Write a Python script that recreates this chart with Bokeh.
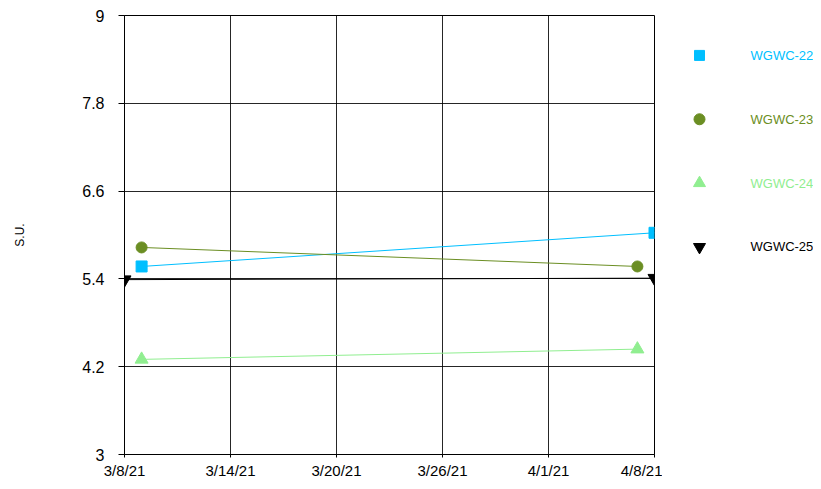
import pandas as pd
from bokeh.plotting import figure
from bokeh.layouts import row
from bokeh.models import FixedTicker, Range1d
from bokeh.core.properties import value
from bokeh.embed import file_html
from bokeh.resources import INLINE

start_date = "2021-03-08"
series_names = ["WGWC-22", "WGWC-23", "WGWC-24", "WGWC-25"]
series_dates = [
    ["2021-03-09", "2021-04-08"],
    ["2021-03-09", "2021-04-07"],
    ["2021-03-09", "2021-04-07"],
    ["2021-03-08", "2021-04-08"],
]
series_values = [
    [5.57, 6.03],
    [5.83, 5.57],
    [4.30, 4.44],
    [5.39, 5.41],
]
series_colors = ["#00BFFF", "#6B8E23", "#90EE90", "#000000"]
series_markers = ["square", "circle", "triangle", "inverted_triangle"]
series_sizes = [11, 11, 13, 13]

x_tick_labels = ["3/8/21", "3/14/21", "3/20/21", "3/26/21", "4/1/21", "4/8/21"]
y_ticks = [3, 4.2, 5.4, 6.6, 7.8, 9]

t0 = pd.Timestamp(start_date)
def days(d):
    return (pd.Timestamp(d) - t0).total_seconds() / 86400.0

x_end = days("2021-04-08")
x_tick_pos = [x_end * i / 5 for i in range(6)]

FONT = "Liberation Sans"
TOTAL_W, H = 813, 481
MAIN_W = 662
LEG_W = TOTAL_W - MAIN_W
F_TOP, F_BOTTOM = 15, 455

p = figure(width=MAIN_W, height=H, output_backend="svg", toolbar_location=None,
           x_range=Range1d(0, x_end), y_range=Range1d(3, 9),
           min_border_left=124, min_border_right=MAIN_W - 654, min_border_top=F_TOP,
           min_border_bottom=H - F_BOTTOM)
p.outline_line_color = "black"
p.outline_line_width = 1
p.background_fill_color = "white"
p.border_fill_color = "white"

p.xaxis.ticker = FixedTicker(ticks=x_tick_pos)
p.xaxis.major_label_overrides = {t: l for t, l in zip(x_tick_pos, x_tick_labels)}
p.yaxis.ticker = FixedTicker(ticks=y_ticks)
p.yaxis.major_label_overrides = {t: (str(t) if t != int(t) else str(int(t))) for t in y_ticks}

for ax in (p.xaxis[0], p.yaxis[0]):
    ax.axis_line_color = "black"
    ax.major_tick_line_color = "black"
    ax.minor_tick_line_color = None
    ax.major_tick_in = 0
    ax.major_label_text_font = FONT
    ax.major_label_text_font_size = "16px"
    ax.major_label_text_color = "black"

p.xaxis.major_label_text_font_size = "15px"
p.xaxis.major_tick_out = 3
p.xaxis.major_label_standoff = 4
p.yaxis.major_tick_out = 6
p.yaxis.major_label_standoff = 14
p.yaxis.axis_label = "S.U."
p.yaxis.axis_label_text_font = FONT
p.yaxis.axis_label_text_font_size = "12px"
p.yaxis.axis_label_text_font_style = "normal"
p.yaxis.axis_label_text_color = "black"
p.yaxis.axis_label_standoff = 52

p.xgrid.ticker = FixedTicker(ticks=x_tick_pos)
p.ygrid.ticker = FixedTicker(ticks=y_ticks)
for g in (p.xgrid[0], p.ygrid[0]):
    g.grid_line_color = "black"
    g.grid_line_width = 1
    g.grid_line_alpha = 0.85

for name, ds, vs, c, m, s in zip(series_names, series_dates, series_values,
                                 series_colors, series_markers, series_sizes):
    xs = [days(d) for d in ds]
    p.line(xs, vs, line_color=c, line_width=1)
    p.scatter(xs, vs, marker=m, size=s, fill_color=c, line_color=c)

# legend panel: a bare figure whose frame matches the main frame vertically,
# with data coordinates equal to page pixels (y measured from top)
leg = figure(width=LEG_W, height=H, output_backend="svg", toolbar_location=None,
             x_range=Range1d(0, LEG_W), y_range=Range1d(F_BOTTOM, F_TOP),
             min_border_left=0, min_border_right=0,
             min_border_top=F_TOP, min_border_bottom=H - F_BOTTOM)
leg.axis.visible = False
leg.grid.visible = False
leg.outline_line_color = None
leg.background_fill_color = "white"
leg.border_fill_color = "white"

row_top, row_step = 55, 64
marker_x = 699 - MAIN_W
text_x = 750 - MAIN_W
for i, (name, c, m, s) in enumerate(zip(series_names, series_colors, series_markers, series_sizes)):
    yc = row_top + i * row_step
    leg.scatter([marker_x], [yc], marker=m, size=s - 1 if m != "circle" else s,
                fill_color=c, line_color=c)
    leg.text([text_x], [yc], text=[name], text_color=c, text_font=value(FONT),
             text_font_size="13px", text_baseline="middle", text_align="left")

layout = row(p, leg, spacing=0)
open("out.html", "w").write(file_html(layout, INLINE))
